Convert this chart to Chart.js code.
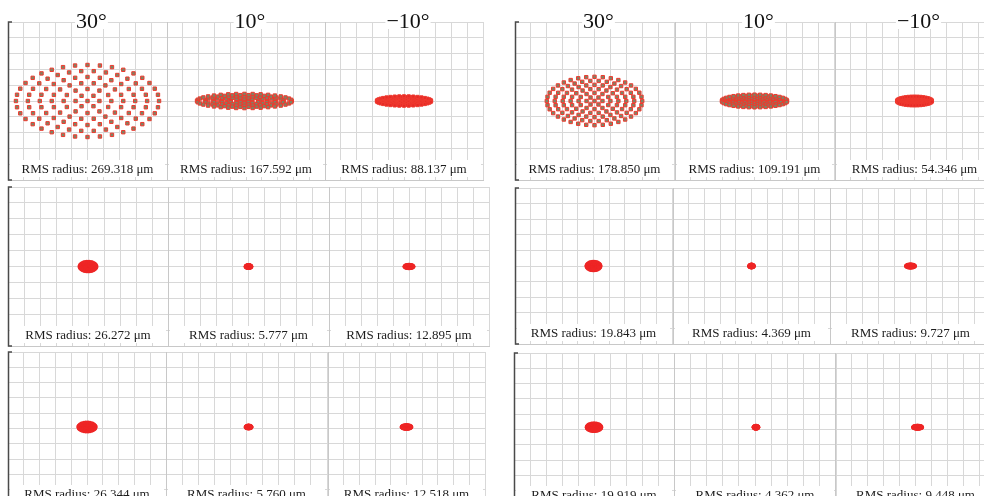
<!DOCTYPE html>
<html>
<head>
<meta charset="utf-8">
<script src="https://cdn.jsdelivr.net/npm/chart.js@4/dist/chart.umd.min.js"></script>
<style>
  html,body{margin:0;padding:0;background:#fff;overflow:hidden;width:984px;height:496px;}
  .p{position:absolute;}
  canvas{display:block;}
</style>
</head>
<body>
<script>
// ---------------- data ----------------
const fieldAngles = ['30°', '10°', '−10°'];
// RMS radius (µm): rows = configuration rows, cols = field angle
const rmsGroupA = [
  [269.318, 167.592, 88.137],
  [26.272, 5.777, 12.895],
  [26.344, 5.760, 12.518]
];
const rmsGroupB = [
  [178.850, 109.191, 54.346],
  [19.843, 4.369, 9.727],
  [19.919, 4.362, 9.448]
];
// spot semi-axes [x, y] in grid divisions
const spotAxesA = [
  [[4.5, 2.28], [3.0, 0.45], [1.72, 0.30]],
  [[0.55, 0.33], [0.20, 0.12], [0.30, 0.13]],
  [[0.57, 0.32], [0.20, 0.12], [0.33, 0.15]]
];
const spotAxesB = [
  [[3.0, 1.53], [2.05, 0.40], [1.10, 0.28]],
  [[0.47, 0.30], [0.17, 0.12], [0.30, 0.13]],
  [[0.48, 0.28], [0.17, 0.12], [0.30, 0.13]]
];
// spot centroid [x, y] in grid divisions
const spotCentreA = [
  [[0, 0], [-0.1, 0], [0, 0]],
  [[0, 0], [0, 0], [0, 0]],
  [[0, 0.1], [0.13, 0.1], [0, 0.1]]
];
const spotCentreB = [
  [[0, 0], [0, 0], [0, 0]],
  [[0, 0], [0, 0], [0, 0]],
  [[0, 0.15], [0.06, 0.15], [0.13, 0.15]]
];
// grid tick values (divisions)
const gridTicks = [-5, -4, -3, -2, -1, 0, 1, 2, 3, 4, 5];
// hexapolar ray sampling rings
const rayRings = 6;

// ---------------- layout ----------------
const boxes = {
  A: [
    [[8, 22, 166, 179], [167, 22, 324, 179], [325, 22, 482, 179]],
    [[8, 187, 167, 345], [168, 187, 328, 345], [329, 187, 488, 345]],
    [[8, 352, 165, 504], [166, 352, 326, 504], [328, 352, 484, 504]]
  ],
  B: [
    [[515, 22, 673, 179], [675, 22, 833, 179], [835, 22, 993, 179]],
    [[515, 188, 671, 343], [673, 188, 829, 343], [830, 188, 990, 343]],
    [[514, 353, 673, 505], [674, 353, 835, 505], [835, 353, 995, 505]]
  ]
};

function rayPoints(centre, axes) {
  const pts = [{x: centre[0], y: centre[1]}];
  for (let k = 1; k <= rayRings; k++) {
    const n = 6 * k;
    for (let j = 0; j < n; j++) {
      const t = 2 * Math.PI * j / n;
      pts.push({x: centre[0] + axes[0] * (k / rayRings) * Math.cos(t),
                y: centre[1] + axes[1] * (k / rayRings) * Math.sin(t)});
    }
  }
  return pts;
}

const decor = {
  id: 'decor',
  afterDraw(chart, args, o) {
    const {ctx, chartArea: a} = chart;
    ctx.save();
    // label box
    ctx.fillStyle = '#fff';
    ctx.fillRect(a.left + 2, a.bottom - 20, a.right - a.left - 4, 17);
    ctx.font = '13px "Liberation Serif"';
    ctx.fillStyle = '#1c1c1c';
    ctx.textAlign = 'center';
    ctx.textBaseline = 'middle';
    ctx.fillText(o.label, (a.left + a.right) / 2, a.bottom - 10);
    if (o.title) {
      ctx.font = '22px "Liberation Serif"';
      const w = ctx.measureText(o.title).width;
      const cx = (a.left + a.right) / 2 + 4;
      ctx.fillStyle = '#fff';
      ctx.fillRect(cx - w / 2 - 1, a.top - 2, w + 2, 9);
      ctx.fillStyle = '#111';
      ctx.textBaseline = 'alphabetic';
      ctx.fillText(o.title, cx, a.top + 6);
    }
    if (o.bracket) {
      ctx.strokeStyle = '#4a4a4a';
      ctx.lineWidth = 1.5;
      ctx.beginPath();
      ctx.moveTo(a.left + 4, a.top);
      ctx.lineTo(a.left + 0.5, a.top);
      ctx.lineTo(a.left + 0.5, a.bottom);
      ctx.lineTo(a.left + 4, a.bottom);
      ctx.stroke();
    }
    ctx.restore();
  }
};

function makePanel(group, r, c) {
  const b = boxes[group][r][c];
  const padTop = r === 0 ? b[1] : 1;
  const top = r === 0 ? 0 : b[1] - 1;
  const div = document.createElement('div');
  div.className = 'p';
  div.style.left = (b[0] - 1) + 'px';
  div.style.top = top + 'px';
  const cv = document.createElement('canvas');
  const w = b[2] - b[0] + 3, h = b[3] - top + 2;
  cv.width = w; cv.height = h;
  cv.style.width = w + 'px'; cv.style.height = h + 'px';
  div.appendChild(cv);
  document.body.appendChild(div);

  const rms = (group === 'A' ? rmsGroupA : rmsGroupB)[r][c];
  const axes = (group === 'A' ? spotAxesA : spotAxesB)[r][c];
  const centre = (group === 'A' ? spotCentreA : spotCentreB)[r][c];
  const pts = rayPoints(centre, axes);

  let style;
  if (r === 0 && c < 2) {
    style = {pointStyle: 'rect', pointRadius: 2.4, backgroundColor: '#7c8466', borderColor: '#ee3a2e', pointBorderWidth: 1};
  } else if (r === 0) {
    style = {pointStyle: 'rect', pointRadius: 2.2, backgroundColor: '#e62a26', borderColor: '#ef3a30', pointBorderWidth: 1};
  } else {
    style = {pointStyle: 'circle', pointRadius: 1.6, backgroundColor: '#ee2626', borderColor: '#ee2626', pointBorderWidth: 0};
  }

  const forceTicks = s => { s.ticks = gridTicks.map(v => ({value: v})); };
  const mkScale = (isX) => ({
    type: 'linear', min: gridTicks[0], max: gridTicks[gridTicks.length - 1],
    ticks: {display: false, padding: 0, stepSize: 1},
    grid: {color: '#d8d8d8', drawTicks: false, tickLength: 0, lineWidth: 1},
    border: {color: '#c8c8c8'},
    afterBuildTicks: forceTicks,
    afterFit: s => { if (isX) s.height = 0; else s.width = 0; }
  });
  new Chart(cv, {
    type: 'scatter',
    data: {datasets: [Object.assign({data: pts}, style)]},
    options: {
      responsive: false, animation: false, devicePixelRatio: 1,
      layout: {autoPadding: false, padding: {top: padTop, left: 1, right: 1, bottom: 1}},
      plugins: {
        legend: {display: false}, tooltip: {enabled: false},
        decor: {
          label: 'RMS radius: ' + rms.toFixed(3) + ' μm',
          title: r === 0 ? fieldAngles[c] : null,
          bracket: c === 0
        }
      },
      scales: {x: mkScale(true), y: mkScale(false)}
    },
    plugins: [decor]
  });
}

['A', 'B'].forEach(g => { for (let r = 0; r < 3; r++) for (let c = 0; c < 3; c++) makePanel(g, r, c); });
</script>
</body>
</html>
